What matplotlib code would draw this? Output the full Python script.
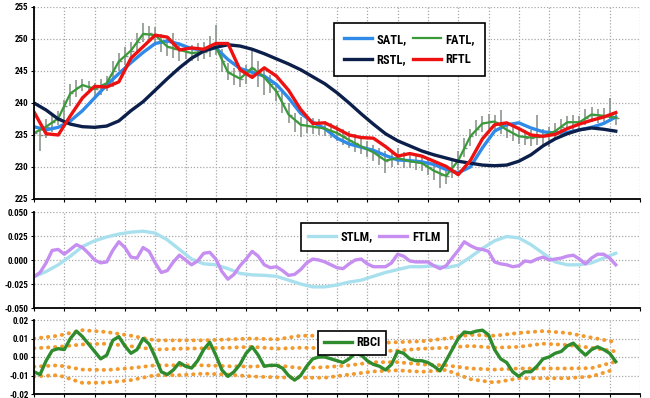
import numpy as np
import matplotlib
matplotlib.use("Agg")
import matplotlib.pyplot as plt
from matplotlib import font_manager
from matplotlib.ticker import FormatStrFormatter

# pick a narrow font if one is installed
names = {f.name for f in font_manager.fontManager.ttflist}
narrow = None
for cand in ['Liberation Sans Narrow', 'Roboto Condensed', 'Open Sans Condensed',
             'DejaVu Sans Condensed']:
    if cand in names:
        narrow = cand
        break
if narrow is None:
    cond = [f for f in font_manager.fontManager.ttflist
            if f.name == 'DejaVu Sans' and f.stretch in ('condensed', 'semi-condensed', 500)]
    if cond:
        plt.rcParams['font.stretch'] = 'condensed'
    narrow = 'DejaVu Sans'
plt.rcParams['font.family'] = [narrow, 'DejaVu Sans']
plt.rcParams['font.weight'] = 'bold'
plt.rcParams['axes.unicode_minus'] = False

# price bars (one per bar, 97 bars)
bar_hi = [236.5, 236.0, 237.5, 238.0, 238.8, 240.5, 243.0, 243.6, 243.8, 243.5,
          243.2, 243.8, 244.2, 246.5, 247.8, 248.8, 249.5, 251.0, 252.5, 252.0,
          251.8, 250.8, 250.0, 251.0, 249.5, 249.0, 249.0, 249.3, 249.5, 250.5,
          252.2, 248.5, 246.3, 245.5, 245.0, 246.0, 248.3, 246.5, 245.3, 244.3,
          243.0, 241.8, 240.0, 238.5, 237.8, 237.5, 237.6, 237.5, 237.2, 236.8,
          236.5, 236.0, 235.7, 235.2, 234.5, 234.0, 233.5, 233.0, 232.5, 232.3,
          233.0, 232.3, 232.0, 232.0, 231.8, 231.2, 230.8, 230.0, 229.8, 231.0,
          232.5, 234.5, 236.0, 237.3, 238.0, 238.3, 238.2, 238.9, 237.0, 236.5,
          236.0, 235.8, 235.8, 238.1, 236.0, 236.3, 236.8, 237.5, 238.0, 238.2,
          238.0, 239.0, 239.3, 239.0, 239.2, 240.8, 238.8]
bar_lo = [234.0, 232.5, 234.5, 235.5, 236.5, 237.0, 239.5, 241.0, 241.8, 241.5,
          241.0, 241.2, 241.8, 242.5, 245.0, 246.0, 246.8, 248.0, 249.5, 249.8,
          249.0, 248.0, 247.3, 247.0, 246.6, 246.8, 246.5, 246.6, 246.8, 247.2,
          247.5, 244.8, 243.6, 242.8, 242.5, 243.0, 244.0, 242.5, 241.3, 241.5,
          240.3, 238.5, 236.8, 235.5, 234.7, 235.3, 235.2, 235.0, 234.8, 234.5,
          234.0, 233.5, 233.0, 232.3, 232.0, 231.5, 231.0, 230.3, 229.1, 230.0,
          230.3, 229.8, 229.8, 229.5, 229.3, 228.8, 228.0, 226.7, 227.3, 228.3,
          229.5, 231.5, 233.3, 234.8, 235.5, 236.0, 235.8, 235.2, 234.5, 234.0,
          233.6, 233.5, 233.3, 233.5, 233.5, 233.1, 234.3, 235.0, 235.8, 235.8,
          235.8, 236.5, 237.0, 236.8, 236.8, 237.0, 236.5]
bar_close = [235.3, 235.0, 236.3, 237.0, 237.6, 239.5, 241.5, 242.5, 242.8, 242.5,
             242.2, 242.4, 243.1, 245.0, 246.5, 247.3, 248.2, 249.5, 250.8, 251.0,
             250.6, 249.6, 248.8, 248.5, 248.3, 248.0, 247.8, 247.9, 248.0, 248.6,
             248.8, 246.5, 244.8, 244.2, 243.8, 244.5, 245.5, 244.8, 244.0, 243.0,
             241.8, 240.0, 238.2, 237.2, 236.6, 236.4, 236.3, 236.2, 236.0, 235.7,
             235.3, 234.8, 234.2, 233.7, 233.2, 232.8, 232.3, 231.6, 231.0, 231.2,
             231.4, 231.1, 230.9, 230.8, 230.6, 230.0, 229.4, 228.8, 228.6, 229.6,
             231.0, 233.0, 234.8, 236.0, 236.8, 237.2, 237.1, 236.5, 235.8, 235.2,
             234.8, 234.6, 234.6, 234.7, 234.8, 235.2, 235.6, 236.3, 237.0, 237.0,
             237.0, 237.6, 238.2, 238.0, 238.0, 238.2, 237.7]

# smooth filters, sampled every 2 bars
satl = [236.3, 235.8, 236.2, 237.2, 238.8, 240.8, 242.8, 244.6, 246.3, 247.9,
        249.3, 249.7, 249.2, 248.5, 248.3, 248.6, 246.8, 245.4, 244.8, 244.2,
        242.9, 240.8, 238.4, 237.0, 236.0, 234.5, 233.6, 233.1, 232.6, 231.8,
        231.1, 231.0, 230.8, 230.4, 229.6, 229.1, 230.0, 233.0, 235.6, 236.6,
        236.9, 236.1, 235.5, 235.3, 235.4, 235.8, 236.2, 236.8, 237.8]
fatl = [235.3, 236.3, 237.6, 241.5, 242.8, 242.2, 243.1, 246.5, 248.2, 250.8,
        250.6, 248.8, 248.3, 247.8, 248.0, 248.8, 244.8, 243.8, 245.5, 244.0,
        241.8, 238.2, 236.6, 236.3, 236.0, 235.3, 234.2, 233.2, 232.3, 231.0,
        231.4, 230.9, 230.6, 229.4, 228.6, 231.0, 234.8, 236.8, 237.1, 235.8,
        234.8, 234.6, 234.8, 235.6, 237.0, 237.0, 238.2, 238.0, 237.7]
rstl = [240.0, 238.9, 237.5, 236.7, 236.3, 236.2, 236.4, 237.2, 238.8, 240.2,
        242.0, 243.8, 245.5, 247.0, 248.1, 248.7, 249.1, 248.9, 248.4, 247.7,
        246.9, 246.1, 245.2, 244.1, 243.0, 241.6, 240.0, 238.3, 236.7, 235.2,
        234.1, 233.3, 232.5, 231.9, 231.4, 230.9, 230.6, 230.3, 230.2, 230.3,
        230.9, 231.9, 233.3, 234.4, 235.2, 235.8, 236.1, 235.9, 235.6]
rftl = [238.6, 235.2, 235.0, 238.0, 240.8, 242.6, 242.5, 243.3, 247.0, 248.8,
        250.6, 250.3, 248.3, 248.6, 248.4, 249.3, 249.3, 245.2, 244.0, 245.5,
        244.2, 242.0, 239.0, 236.8, 236.9, 236.0, 235.0, 234.6, 234.5, 233.2,
        231.7, 232.1, 231.7, 230.9, 230.1, 228.8, 231.0, 234.4, 236.6, 236.9,
        236.0, 235.0, 234.8, 235.1, 236.0, 236.7, 237.3, 237.8, 238.5]

stlm = [-0.0175, -0.012, -0.005, 0.004, 0.014, 0.020, 0.024, 0.027, 0.029, 0.030,
        0.028, 0.021, 0.011, 0.001, -0.004, -0.005, -0.009, -0.014, -0.0155, -0.016,
        -0.017, -0.021, -0.025, -0.028, -0.028, -0.026, -0.023, -0.021, -0.017, -0.013,
        -0.010, -0.007, -0.007, -0.006, -0.008, -0.0055, 0.003, 0.012, 0.020, 0.0245,
        0.023, 0.016, 0.007, -0.002, -0.005, -0.005, -0.003, 0.002, 0.007]
ftlm = [-0.0175, -0.013, -0.003, 0.010, 0.011, 0.006, 0.011, 0.016, 0.013, 0.007,
        0.000, -0.003, -0.002, 0.010, 0.019, 0.013, 0.003, 0.002, 0.013, 0.009,
        -0.003, -0.013, -0.011, -0.002, 0.005, 0.000, -0.005, -0.001, 0.007, 0.008,
        0.001, -0.012, -0.020, -0.015, -0.006, 0.001, 0.009, 0.004, -0.005, -0.008,
        -0.007, -0.011, -0.016, -0.015, -0.010, -0.003, 0.001, 0.000, -0.002, -0.005,
        -0.008, -0.009, -0.004, 0.000, 0.001, -0.004, -0.007, -0.007, -0.007, -0.003,
        0.006, 0.004, -0.001, -0.002, -0.002, -0.002, -0.006, -0.009, -0.006, 0.002,
        0.010, 0.019, 0.015, 0.012, 0.011, 0.009, -0.002, -0.004, -0.005, -0.007,
        -0.006, -0.001, -0.002, 0.001, 0.003, 0.000, 0.001, 0.002, 0.004, 0.005,
        0.001, -0.004, 0.002, 0.006, 0.006, 0.002, -0.005]

rbci = [-0.008, -0.0095, -0.002, 0.0035, 0.0045, 0.004, 0.010, 0.014, 0.011, 0.007,
        0.003, -0.001, 0.001, 0.009, 0.011, 0.006, 0.002, 0.004, 0.010, 0.007,
        0.000, -0.008, -0.0095, -0.007, -0.003, -0.005, -0.006, -0.002, 0.004, 0.008,
        0.001, -0.007, -0.0105, -0.008, -0.004, 0.002, 0.0055, 0.001, -0.005, -0.0045,
        -0.0045, -0.006, -0.010, -0.0125, -0.010, -0.005, -0.001, 0.000, 0.000, -0.001,
        -0.002, -0.003, -0.001, 0.002, 0.001, -0.002, -0.004, -0.005, -0.007, -0.004,
        0.003, 0.002, -0.001, -0.002, -0.002, -0.003, -0.005, -0.0075, -0.002, 0.004,
        0.010, 0.0135, 0.013, 0.014, 0.0145, 0.012, 0.004, -0.001, -0.003, -0.008,
        -0.0105, -0.008, -0.008, -0.005, -0.001, 0.000, 0.002, 0.003, 0.006, 0.0075,
        0.004, 0.001, 0.004, 0.0055, 0.004, 0.002, -0.0025]

# RBCI bands, sampled every 4 bars
band_ou = [0.0100, 0.0115, 0.0145, 0.0135, 0.0115, 0.0090, 0.0090, 0.0090, 0.0095, 0.0100,
           0.0095, 0.0115, 0.0115, 0.0095, 0.0075, 0.0080, 0.0085, 0.0100, 0.0120, 0.0115,
           0.0130, 0.0140, 0.0130, 0.0105, 0.0080]
band_iu = [0.0047, 0.0055, 0.0068, 0.0072, 0.0058, 0.0040, 0.0045, 0.0047, 0.0050, 0.0055,
           0.0045, 0.0050, 0.0048, 0.0040, 0.0030, 0.0035, 0.0045, 0.0050, 0.0060, 0.0050,
           0.0055, 0.0072, 0.0065, 0.0050, 0.0030]
band_il = [-0.0052, -0.0045, -0.0068, -0.0070, -0.0060, -0.0045, -0.0045, -0.0045, -0.0050, -0.0052,
           -0.0045, -0.0060, -0.0055, -0.0045, -0.0028, -0.0028, -0.0040, -0.0045, -0.0062, -0.0068,
           -0.0062, -0.0062, -0.0062, -0.0060, -0.0025]
band_ol = [-0.0105, -0.0098, -0.0140, -0.0138, -0.0125, -0.0098, -0.0098, -0.0090, -0.0095, -0.0105,
           -0.0110, -0.0112, -0.0112, -0.0095, -0.0078, -0.0072, -0.0080, -0.0070, -0.0120, -0.0138,
           -0.0115, -0.0115, -0.0115, -0.0105, -0.0065]

x1 = np.arange(len(bar_hi))
x2 = np.arange(0, len(bar_hi), 2)
x4 = np.arange(0, len(bar_hi), 4)

fig = plt.figure(figsize=(6.5, 3.98), dpi=100)
L, W = 34 / 650, 606 / 650
ax1 = fig.add_axes([L, 1 - 199 / 398, W, 192 / 398])
ax2 = fig.add_axes([L, 1 - 308 / 398, W, 96 / 398])
ax3 = fig.add_axes([L, 1 - 394 / 398, W, 74 / 398])

def style(ax):
    ax.set_xlim(0, 100)
    ax.set_xticks(np.arange(0, 101, 5))
    ax.set_xticklabels([])
    ax.grid(True, color='#a8a8a8', linestyle=(0, (1, 1.5)), linewidth=0.9)
    ax.set_axisbelow(True)
    for s in ['top', 'right']:
        ax.spines[s].set_visible(False)
    for s in ['left', 'bottom']:
        ax.spines[s].set_linewidth(1.3)
    ax.tick_params(axis='both', length=2.5, width=0.8, labelsize=6.5, pad=1.5)

def leg(ax, handles, labels, anchor, ncol, pad):
    lg = ax.legend(handles, labels, loc='upper left', bbox_to_anchor=anchor, ncol=ncol,
                   fontsize=9, frameon=True, fancybox=False, framealpha=1,
                   edgecolor='black', handlelength=2.2, handletextpad=0.4,
                   columnspacing=0.5, borderpad=pad, labelspacing=0.6)
    lg.get_frame().set_linewidth(1.2)

# price panel
ax1.vlines(x1, bar_lo, bar_hi, color='#848c84', linewidth=1.1)
ax1.plot(x1, bar_close, linestyle='none', marker=1, markersize=2.5, color='#848c84')
h_satl, = ax1.plot(x2, satl, color='#2f8ae8', linewidth=2.4)
h_fatl, = ax1.plot(x2, fatl, color='#3a9a3a', linewidth=1.6)
h_rstl, = ax1.plot(x2, rstl, color='#0c1f4a', linewidth=2.4)
h_rftl, = ax1.plot(x2, rftl, color='#ee1111', linewidth=2.4)
style(ax1)
ax1.set_ylim(225, 255)
ax1.set_yticks(np.arange(225, 256, 5))
leg(ax1, [h_satl, h_rstl, h_fatl, h_rftl], ['SATL,', 'RSTL,', 'FATL,', 'RFTL'],
    (0.485, 0.95), 2, 0.8)

# STLM / FTLM panel
h_stlm, = ax2.plot(x2, stlm, color='#a8e0ee', linewidth=2.4)
h_ftlm, = ax2.plot(x1, ftlm, color='#c58ef0', linewidth=2.4)
style(ax2)
ax2.set_ylim(-0.05, 0.05)
ax2.set_yticks([-0.05, -0.025, 0, 0.025, 0.05])
ax2.yaxis.set_major_formatter(FormatStrFormatter('%.3f'))
leg(ax2, [h_stlm, h_ftlm], ['STLM,', 'FTLM'], (0.43, 0.95), 2, 0.6)

# RBCI panel
for b in [band_ou, band_iu, band_il, band_ol]:
    ax3.plot(x4, b, color='#f29a2e', linestyle=(0, (0.1, 1.7)), linewidth=2.8,
             dash_capstyle='round')
h_rbci, = ax3.plot(x1, rbci, color='#2e8b2e', linewidth=2.4)
style(ax3)
ax3.set_ylim(-0.02, 0.02)
ax3.set_yticks([-0.02, -0.01, 0, 0.01, 0.02])
ax3.yaxis.set_major_formatter(FormatStrFormatter('%.2f'))
leg(ax3, [h_rbci], ['RBCI'], (0.459, 0.94), 1, 0.45)

fig.savefig('out.png', dpi=100)
